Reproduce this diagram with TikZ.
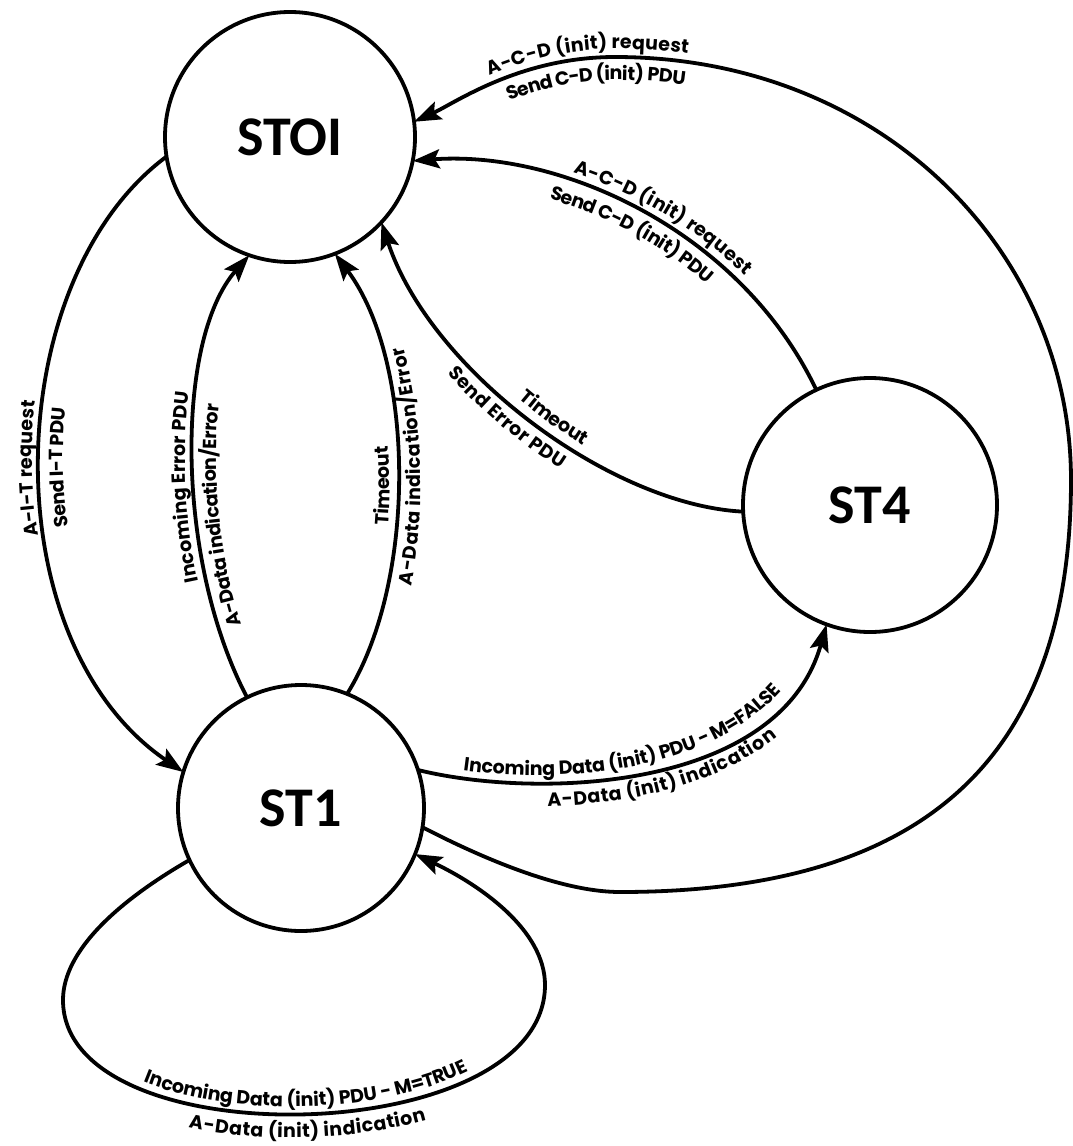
\documentclass[tikz,border=0pt]{standalone}
\usepackage{fontspec}
\newfontfamily\edgefont{Poppins}
\newfontfamily\statefont{Carlito}
\newcommand\edgelab{\edgefont\bfseries\fontsize{19}{22}\selectfont}
\usetikzlibrary{arrows.meta,decorations.text}
\begin{document}
\begin{tikzpicture}[x=1pt,y=-1pt,
  state/.style={circle,draw,line width=3.8pt,inner sep=0pt,outer sep=0pt,
    font=\statefont\bfseries\fontsize{56}{60}\selectfont},
  conn/.style={line width=3.8pt,-{Stealth[length=27pt,width=19pt,inset=5pt]}},
  lab/.style={decorate,decoration={text along path,#1}},
  up/.style={raise=8pt},
  down/.style={raise=-23pt},
]
\useasboundingbox (0,0) rectangle (1073,1146);

% states
\node[state,minimum size=250pt] (STOI) at (290,137) {STOI};
\node[state,minimum size=246pt] (ST1) at (301,808) {ST1};
\node[state,minimum size=254pt] (ST4) at (870,505) {ST4};

% 1: STOI -> ST1
\draw[conn] (STOI.189) .. controls (0,280) and (-10,640) .. (ST1.163);
\path[lab={text={|\edgelab|A-I-T request},text align=center,raise=8pt}]
  (ST1.163) .. controls (-10,640) and (0,280) .. (STOI.189);
\path[lab={text={|\edgelab|Send I-T PDU},text align=center,raise=-23pt}]
  (ST1.163) .. controls (-10,640) and (0,280) .. (STOI.189);

% 2: ST1 -> STOI (Incoming Error PDU)
\draw[conn] (ST1.116) .. controls (175,560) and (175,340) .. (STOI.251);
\path[lab={text={|\edgelab|Incoming Error PDU},text align={left indent=125pt},raise=8pt}]
  (ST1.116) .. controls (175,560) and (175,340) .. (STOI.251);
\path[lab={text={|\edgelab|A-Data indication/Error},text align={left indent=72pt},raise=-23pt}]
  (ST1.116) .. controls (175,560) and (175,340) .. (STOI.251);

% 3: ST1 -> STOI (Timeout)
\draw[conn] (ST1.68) .. controls (418,580) and (415,360) .. (STOI.291);
\path[lab={text={|\edgelab|Timeout},text align={left indent=176pt},raise=8pt}]
  (ST1.68) .. controls (418,580) and (415,360) .. (STOI.291);
\path[lab={text={|\edgelab|A-Data indication/Error},text align={left indent=120pt},raise=-23pt}]
  (ST1.68) .. controls (418,580) and (415,360) .. (STOI.291);

% 4: ST4 -> STOI (A-C-D)
\draw[conn] (ST4.115) .. controls (740,230) and (560,150) .. (STOI.-11);
\path[lab={text={|\edgelab|A-C-D (init) request},text align={left indent=160pt},raise=9pt}]
  (STOI.-11) .. controls (560,150) and (740,230) .. (ST4.115);
\path[lab={text={|\edgelab|Send C-D (init) PDU},text align={left indent=145pt},raise=-23pt}]
  (STOI.-11) .. controls (560,150) and (740,230) .. (ST4.115);

% 5: ST4 -> STOI (Timeout)
\draw[conn] (ST4.183) .. controls (610,505) and (430,370) .. (STOI.317);
\path[lab={text={|\edgelab|Timeout},text align={left indent=228pt},raise=9pt}]
  (STOI.317) .. controls (430,370) and (610,505) .. (ST4.183);
\path[lab={text={|\edgelab|Send Error PDU},text align={left indent=160pt},raise=-23pt}]
  (STOI.317) .. controls (430,370) and (610,505) .. (ST4.183);

% 6: ST1 -> ST4
\draw[conn] (ST1.18) .. controls (540,800) and (780,790) .. (ST4.250);
\path[lab={text={|\edgelab|Incoming Data (init) PDU - M=FALSE},text align={left indent=45pt},raise=8pt}]
  (ST1.18) .. controls (540,800) and (780,790) .. (ST4.250);
\path[lab={text={|\edgelab|A-Data (init) indication},text align={left indent=130pt},raise=-23pt}]
  (ST1.18) .. controls (540,800) and (780,790) .. (ST4.250);

% 7: ST1 self loop
\draw[conn] (ST1.205) .. controls (120,900) and (63,950) .. (63,1000)
  .. controls (63,1160) and (545,1150) .. (545,985)
  .. controls (545,930) and (480,885) .. (ST1.-22);
\path[lab={text={|\edgelab|Incoming Data (init) PDU - M=TRUE},text align=center,raise=8pt}]
  (63,1000) .. controls (63,1160) and (545,1150) .. (545,985);
\path[lab={text={|\edgelab|A-Data (init) indication},text align=center,raise=-23pt}]
  (63,1000) .. controls (63,1160) and (545,1150) .. (545,985);

% 8: ST1 -> STOI outer loop
\draw[conn] (ST1.-9) .. controls (480,857) and (560,892) .. (620,892)
  .. controls (900,892) and (1071,780) .. (1071,480)
  .. controls (1071,250) and (880,57) .. (615,57)
  .. controls (520,57) and (455,103) .. (STOI.7);
\path[lab={text={|\edgelab|A-C-D (init) request},text align={left indent=88pt},raise=8pt}]
  (STOI.7) .. controls (455,103) and (520,57) .. (615,57)
  .. controls (880,57) and (1071,250) .. (1071,480);
\path[lab={text={|\edgelab|Send C-D (init) PDU},text align={left indent=97pt},raise=-23pt}]
  (STOI.7) .. controls (455,103) and (520,57) .. (615,57)
  .. controls (880,57) and (1071,250) .. (1071,480);
\end{tikzpicture}
\end{document}
